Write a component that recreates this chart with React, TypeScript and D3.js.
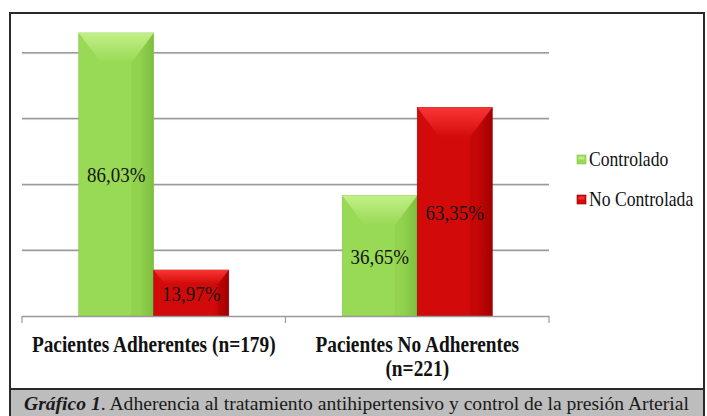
import React from 'react';
import * as d3 from 'd3';

// chart values
const categories = ['Pacientes Adherentes (n=179)', 'Pacientes No Adherentes (n=221)'];
const categoryLines = [['Pacientes Adherentes (n=179)'], ['Pacientes No Adherentes', '(n=221)']];
const seriesNames = ['Controlado', 'No Controlada'];
const controlado = [86.03, 36.65];
const noControlada = [13.97, 63.35];
const gridValues = [20, 40, 60, 80];
const caption = 'Adherencia al tratamiento antihipertensivo y control de la presión Arterial';

const W = 707;
const H = 416;
const serif = '"Liberation Serif", "DejaVu Serif", serif';
const squeeze = 0.86; // reference text is a tall, narrow serif

const palette: Record<string, { main: string; light: string; dark: string; edge: string }> = {
  Controlado: { main: '#98d955', light: '#c6f38d', dark: '#7fbf3f', edge: '#86c34a' },
  'No Controlada': { main: '#d20a0a', light: '#ff3a3a', dark: '#a30000', edge: '#8a0000' },
};

const fmt = (v: number) => v.toFixed(2).replace('.', ',') + '%';

const App: React.FC = () => {
  const plot = { left: 22, right: 549, top: 13, bottom: 316 };

  const y = d3.scaleLinear().domain([0, 100]).range([plot.bottom, plot.bottom - 329]);
  const x0 = d3.scaleBand().domain(categories).range([plot.left, plot.right]).padding(0);
  const inner = (x0.bandwidth() - 150) / 2;
  const x1 = d3.scaleBand().domain(seriesNames).range([inner, inner + 150]).padding(0);

  const rows = categories.map((c, i) => ({
    category: c,
    values: [
      { key: seriesNames[0], value: controlado[i] },
      { key: seriesNames[1], value: noControlada[i] },
    ],
  }));

  return (
    <svg width={W} height={H} style={{ position: 'absolute', left: 0, top: 0, background: '#fff' }}>
      <defs>
        {seriesNames.map((s, i) => (
          <React.Fragment key={s}>
            <linearGradient id={`side-${i}`} x1="0" x2="1" y1="0" y2="0">
              <stop offset="0" stopColor={palette[s].main} />
              <stop offset="0.8" stopColor={palette[s].main} />
              <stop offset="1" stopColor={palette[s].dark} />
            </linearGradient>
            <linearGradient id={`top-${i}`} x1="0" x2="0" y1="0" y2="1">
              <stop offset="0" stopColor={palette[s].light} />
              <stop offset="1" stopColor={palette[s].main} />
            </linearGradient>
          </React.Fragment>
        ))}
        <clipPath id="plotClip">
          <rect x={11} y={14} width={692} height={374} />
        </clipPath>
      </defs>

      {/* outer frame */}
      <rect x={10} y={13} width={694} height={410} fill="#fff" stroke="#2a2a2a" strokeWidth={2} />

      {/* gridlines */}
      {gridValues.map((g) => (
        <g key={g}>
          <line x1={plot.left} x2={plot.right} y1={y(g) + 1} y2={y(g) + 1} stroke="#e2e2e2" strokeWidth={1} />
          <line x1={plot.left} x2={plot.right} y1={y(g)} y2={y(g)} stroke="#9a9a9a" strokeWidth={1.5} />
        </g>
      ))}

      {/* bars */}
      <g clipPath="url(#plotClip)">
        {rows.map((r) => (
          <g key={r.category} transform={`translate(${x0(r.category)},0)`}>
            {r.values.map((d, si) => {
              const bx = x1(d.key) as number;
              const bw = x1.bandwidth();
              const top = y(d.value);
              const h = plot.bottom - top;
              const bh = Math.min(30, h * 0.3);
              const bwid = bh * 0.75;
              return (
                <g key={d.key}>
                  <rect x={bx} y={top} width={bw} height={h} fill={`url(#side-${si})`} stroke={palette[d.key].edge} strokeWidth={0.6} />
                  <polygon
                    points={`${bx},${top} ${bx + bw},${top} ${bx + bw - bwid},${top + bh} ${bx + bwid},${top + bh}`}
                    fill={`url(#top-${si})`}
                    opacity={0.9}
                  />
                  <polygon
                    points={`${bx + bw},${top} ${bx + bw},${top + h} ${bx + bw - bwid},${top + h} ${bx + bw - bwid},${top + bh}`}
                    fill={palette[d.key].dark}
                    opacity={0.25}
                  />
                  <text
                    transform={`translate(${bx + bw / 2},${top + h / 2}) scale(${squeeze},1)`}
                    dy="0.36em"
                    textAnchor="middle"
                    fontFamily={serif}
                    fontSize={22}
                    fill="#151515"
                  >
                    {fmt(d.value)}
                  </text>
                </g>
              );
            })}
          </g>
        ))}
      </g>

      {/* x axis */}
      <line x1={plot.left} x2={plot.right} y1={plot.bottom + 0.5} y2={plot.bottom + 0.5} stroke="#9a9a9a" strokeWidth={1.5} />
      {[plot.left, ...categories.map((c) => (x0(c) as number) + x0.bandwidth())].map((t, i) => (
        <line key={i} x1={t} x2={t} y1={plot.bottom} y2={plot.bottom + 7} stroke="#9a9a9a" strokeWidth={1.2} />
      ))}
      {categories.map((c, i) => (
        <text
          key={c}
          transform={`translate(${(x0(c) as number) + x0.bandwidth() / 2},352) scale(${squeeze},1)`}
          textAnchor="middle"
          fontFamily={serif}
          fontWeight="bold"
          fontSize={22.5}
          fill="#111"
        >
          {categoryLines[i].map((ln, j) => (
            <tspan key={j} x={0} dy={j === 0 ? 0 : 24}>
              {ln}
            </tspan>
          ))}
        </text>
      ))}

      {/* legend */}
      {seriesNames.map((s, i) => (
        <g key={s} transform={`translate(577,${155 + i * 40})`}>
          <rect x={0} y={0} width={9} height={9} fill={palette[s].main} stroke={palette[s].edge} strokeWidth={0.6} />
          <rect x={1.5} y={1.5} width={6} height={3} fill={palette[s].light} opacity={0.8} />
          <text transform={`translate(12,11) scale(${squeeze},1)`} fontFamily={serif} fontSize={20.5} fill="#111">
            {s}
          </text>
        </g>
      ))}

      {/* caption */}
      <rect x={10} y={389} width={694} height={30} fill="#bdbdbd" />
      <line x1={10} x2={704} y1={389} y2={389} stroke="#2a2a2a" strokeWidth={2} />
      <line x1={10} x2={10} y1={13} y2={416} stroke="#2a2a2a" strokeWidth={2} />
      <line x1={704} x2={704} y1={13} y2={416} stroke="#2a2a2a" strokeWidth={2} />
      <text x={24} y={410} fontFamily={serif} fontSize={19.6} fill="#1a1a1a">
        <tspan fontWeight="bold" fontStyle="italic">Gráfico 1</tspan>
        <tspan>. {caption}</tspan>
      </text>
    </svg>
  );
};

export default App;
